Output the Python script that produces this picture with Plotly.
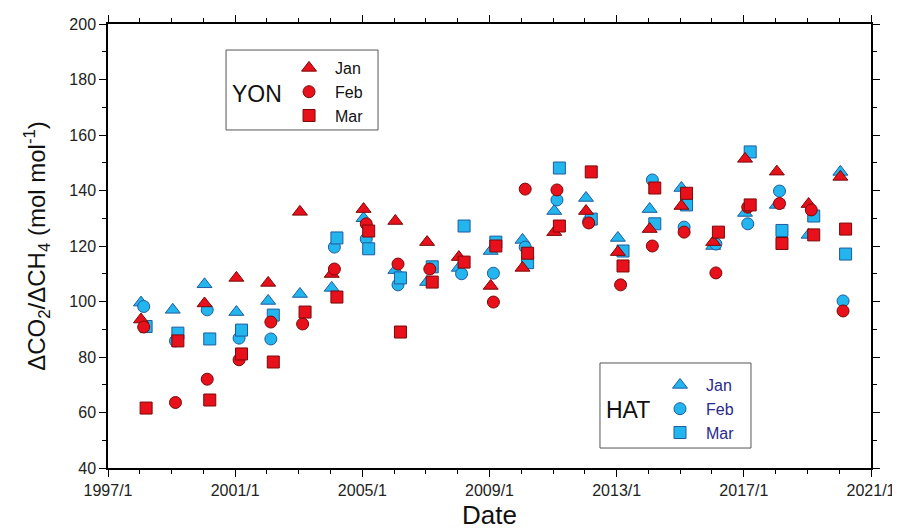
import plotly.graph_objects as go

years = list(range(1998, 2021))

yon_jan = [93.5, None, 99.3, 108.5, 106.7, 132.3, 109.9, 133.3, 129.0, 121.4, 116.0, 105.6,
           112.1, 125.0, 132.6, 117.8, 126.1, 134.4, 121.4, 151.4, 146.8, 135.1, 144.9]
yon_feb = [90.8, 63.6, 72.0, 79.0, 92.6, 91.9, 111.7, 128.0, 113.5, 111.7, None, 99.8,
           140.5, 140.2, 128.3, 106.0, 120.0, 125.0, 110.3, 134.0, 135.3, 133.0, 96.6]
yon_mar = [61.6, 85.8, 64.5, 81.1, 78.2, 96.2, 101.6, 125.4, 89.0, 107.0, 114.2, 120.0,
           117.4, 127.2, 146.7, 112.8, 140.9, 139.0, 125.0, 134.8, 120.9, 124.0, 126.1]
hat_jan = [99.6, 97.0, 106.2, 96.2, 100.2, 102.7, 104.9, 130.0, 111.3, 107.0, 112.1, 118.2,
           122.2, 132.6, 137.3, 122.9, 133.3, 140.9, 120.0, 131.9, 134.8, 124.0, 146.7]
hat_feb = [98.2, 85.8, 97.0, 86.8, 86.5, None, 119.6, 122.5, 106.0, None, 110.0, 110.2,
           119.6, 136.6, 129.0, None, 143.8, 126.8, 120.7, 128.0, 139.8, None, 100.2]
hat_mar = [91.0, 88.6, 86.5, 89.7, 95.1, None, 122.9, 119.0, 108.5, 112.5, 127.2, 121.4,
           114.0, 148.1, 129.7, 118.2, 128.0, 134.8, None, 153.9, 125.6, 130.8, 117.1]

months = {"Jan": "01", "Feb": "02", "Mar": "03"}
symbols = {"Jan": "triangle-up", "Feb": "circle", "Mar": "square"}
sizes = {"Jan": 13, "Feb": 12, "Mar": 12}

RED = "#e8101a"
RED_LINE = "#7a0a0a"
BLUE = "#22b5ee"
BLUE_LINE = "#1f5c9e"

fig = go.Figure()

def add_series(name, vals, station):
    xs = [f"{y}-{months[name]}-15" for y in years]
    if station == "HAT":
        color, lc, leg = BLUE, BLUE_LINE, "legend2"
    else:
        color, lc, leg = RED, RED_LINE, "legend"
    fig.add_trace(go.Scatter(
        x=xs, y=vals, mode="markers", name=name, legend=leg,
        marker=dict(symbol=symbols[name], size=sizes[name], color=color,
                    line=dict(color=lc, width=1)),
    ))

add_series("Jan", hat_jan, "HAT")
add_series("Feb", hat_feb, "HAT")
add_series("Mar", hat_mar, "HAT")
add_series("Jan", yon_jan, "YON")
add_series("Feb", yon_feb, "YON")
add_series("Mar", yon_mar, "YON")

FONT = "Liberation Sans, Arial, sans-serif"

# legend frames and station labels
fig.add_shape(type="rect", xref="paper", yref="paper", x0=0.1547, x1=0.3539, y0=0.7613, y1=0.9414,
              line=dict(color="#555", width=1), fillcolor="white", layer="below")
fig.add_shape(type="rect", xref="paper", yref="paper", x0=0.6448, x1=0.8427, y0=0.045, y1=0.2365,
              line=dict(color="#555", width=1), fillcolor="white", layer="below")
fig.add_annotation(text="YON", xref="paper", yref="paper", x=0.1955, y=0.843,
                   showarrow=False, font=dict(size=23, color="#111"), xanchor="center", yanchor="middle")
fig.add_annotation(text="HAT", xref="paper", yref="paper", x=0.6815, y=0.1306,
                   showarrow=False, font=dict(size=23, color="#111"), xanchor="center", yanchor="middle")

fig.update_layout(
    width=892, height=522,
    margin=dict(l=100, r=29, t=16, b=62),
    plot_bgcolor="white", paper_bgcolor="white",
    font=dict(family=FONT, color="#222"),
    xaxis=dict(
        type="date", range=["1997-01-01", "2021-01-01"], automargin=False,
        tick0="1997-01-01", dtick="M48", tickformat="%Y/%-m",
        ticks="outside", ticklen=7, tickwidth=1.3, tickcolor="black",
        showline=True, linecolor="black", linewidth=1.5, mirror="allticks",
        showgrid=False, zeroline=False,
        tickfont=dict(size=16, color="#222"),
        minor=dict(dtick="M12", ticks="outside", ticklen=4, tickcolor="black", showgrid=False),
        title=dict(text="Date", font=dict(size=26, color="#111"), standoff=10),
    ),
    yaxis=dict(
        range=[40, 200], tick0=40, dtick=20, automargin=False,
        ticks="outside", ticklen=7, tickwidth=1.3, tickcolor="black",
        showline=True, linecolor="black", linewidth=1.5, mirror="allticks",
        showgrid=False, zeroline=False,
        tickfont=dict(size=16, color="#222"),
        minor=dict(dtick=10, ticks="outside", ticklen=4, tickcolor="black", showgrid=False),
        title=dict(text="ΔCO<sub>2</sub>/ΔCH<sub>4</sub> (mol mol<sup>-1</sup>)",
                   font=dict(size=24, color="#111"), standoff=17),
    ),
    legend=dict(
        x=0.2294, y=0.9392, xanchor="left", yanchor="top",
        bgcolor="rgba(0,0,0,0)", borderwidth=0,
        font=dict(size=16, color="#111"),
        tracegroupgap=0, itemwidth=42,
    ),
    legend2=dict(
        x=0.7156, y=0.2252, xanchor="left", yanchor="top",
        bgcolor="rgba(0,0,0,0)", borderwidth=0,
        font=dict(size=16, color="#2a2a8a"),
        tracegroupgap=0, itemwidth=42,
    ),
)

fig.write_html("out.html")
